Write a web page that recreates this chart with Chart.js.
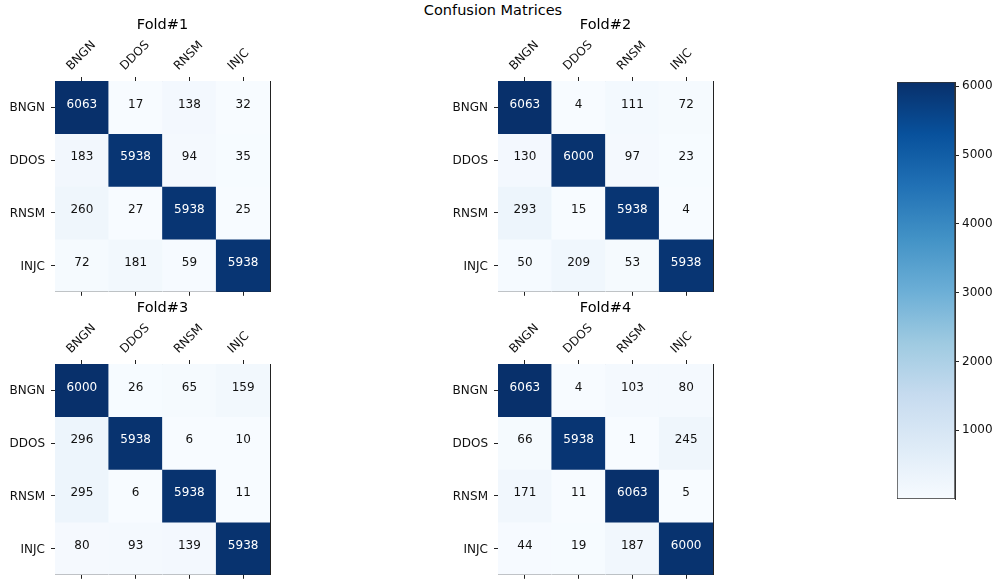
<!DOCTYPE html>
<html>
<head>
<meta charset="utf-8">
<script src="https://cdn.jsdelivr.net/npm/chart.js@4.4.1/dist/chart.umd.min.js"></script>
<style>
  html, body { margin: 0; padding: 0; background: #ffffff; overflow: hidden; }
  #wrap { position: relative; width: 996px; height: 581px; overflow: hidden; }
  #wrap canvas { position: absolute; }
  #suptitle {
    position: absolute; left: 0; top: 2px; width: 986px; text-align: center;
    font: 14.5px "DejaVu Sans", sans-serif; line-height: 17px; color: #000;
  }
</style>
</head>
<body>
<div id="wrap">
  <div id="suptitle">Confusion Matrices</div>
  <canvas id="fold1" width="325" height="305" style="left:0px;top:0px"></canvas>
  <canvas id="fold2" width="325" height="305" style="left:443px;top:0px"></canvas>
  <canvas id="fold3" width="325" height="305" style="left:0px;top:283px"></canvas>
  <canvas id="fold4" width="325" height="305" style="left:443px;top:283px"></canvas>
  <canvas id="cbar" width="99" height="441" style="left:897px;top:70px"></canvas>
</div>
<script>
// Class names (rows = true label, columns = predicted label)
const classes = ['BNGN', 'DDOS', 'RNSM', 'INJC'];

// Confusion matrix per cross-validation fold
const fold1 = [
  [6063, 17, 138, 32],
  [183, 5938, 94, 35],
  [260, 27, 5938, 25],
  [72, 181, 59, 5938]
];
const fold2 = [
  [6063, 4, 111, 72],
  [130, 6000, 97, 23],
  [293, 15, 5938, 4],
  [50, 209, 53, 5938]
];
const fold3 = [
  [6000, 26, 65, 159],
  [296, 5938, 6, 10],
  [295, 6, 5938, 11],
  [80, 93, 139, 5938]
];
const fold4 = [
  [6063, 4, 103, 80],
  [66, 5938, 1, 245],
  [171, 11, 6063, 5],
  [44, 19, 187, 6000]
];
const foldTitles = ['Fold#1', 'Fold#2', 'Fold#3', 'Fold#4'];
const colorbarTicks = [1000, 2000, 3000, 4000, 5000, 6000];

// "Blues" sequential colour map
const bluesStops = ['#f7fbff', '#deebf7', '#c6dbef', '#9ecae1', '#6baed6',
                    '#4292c6', '#2171b5', '#08519c', '#08306b'];

function hexToRgb(h) {
  return [parseInt(h.slice(1, 3), 16), parseInt(h.slice(3, 5), 16), parseInt(h.slice(5, 7), 16)];
}
const bluesRgb = bluesStops.map(hexToRgb);

function blues(t) {
  t = Math.max(0, Math.min(1, t));
  const pos = t * (bluesRgb.length - 1);
  const i = Math.min(Math.floor(pos), bluesRgb.length - 2);
  const f = pos - i;
  const a = bluesRgb[i], b = bluesRgb[i + 1];
  const c = a.map((v, k) => Math.round(v + (b[k] - v) * f));
  return 'rgb(' + c.join(',') + ')';
}

Chart.defaults.font.family = '"DejaVu Sans", sans-serif';
Chart.defaults.font.size = 12;
Chart.defaults.color = '#111';

const frameColor = '#222';
const TITLE_SIZE = 14.5;
const TITLE_PAD = 16.3;
const TITLE_H = TITLE_PAD + TITLE_SIZE * 1.2;  // title padding + line height
const CHART_TOP = 81;                           // top of the matrix inside each canvas
const SIDE_W = 55;                              // equal side margins keep the title centred

// Writes each cell's count at the centre of its cell
const cellText = {
  id: 'cellText',
  afterDatasetsDraw(chart) {
    const { ctx } = chart;
    const thresh = chart.options.plugins.cellText.vmax / 2;
    ctx.save();
    ctx.font = '12px "DejaVu Sans", sans-serif';
    ctx.textAlign = 'center';
    ctx.textBaseline = 'middle';
    chart.data.datasets.forEach((ds, di) => {
      const meta = chart.getDatasetMeta(di);
      meta.data.forEach((bar, i) => {
        const raw = ds.data[i];
        const p = bar.getProps(['x', 'y', 'base'], true);
        ctx.fillStyle = raw.v > thresh ? '#ffffff' : '#111111';
        ctx.fillText(String(raw.v), p.x, (p.y + p.base) / 2 - 2.8);
      });
    });
    ctx.restore();
  }
};

function makeFold(id, title, matrix) {
  const flat = matrix.flat();
  const vmin = Math.min(...flat), vmax = Math.max(...flat);
  const datasets = matrix.map((row, r) => ({
    label: classes[r],
    data: row.map((v, c) => ({ x: classes[c], y: [r, r + 1], v })),
    backgroundColor: row.map(v => blues((v - vmin) / (vmax - vmin))),
    borderWidth: 0,
    grouped: false,
    barPercentage: 1,
    categoryPercentage: 1
  }));

  return new Chart(document.getElementById(id), {
    type: 'bar',
    data: { labels: classes, datasets },
    plugins: [cellText],
    options: {
      responsive: false,
      animation: false,
      devicePixelRatio: 1,
      layout: { padding: 0 },
      plugins: {
        legend: { display: false },
        tooltip: { enabled: false },
        title: {
          display: true, text: title, color: '#000',
          font: { size: TITLE_SIZE, weight: 'normal' },
          padding: { top: TITLE_PAD, bottom: 0 }
        },
        cellText: { vmax }
      },
      scales: {
        x: {
          type: 'category', position: 'top', offset: true,
          grid: { display: true, drawOnChartArea: false, offset: false, tickLength: 4, color: frameColor },
          border: { display: true, color: frameColor, width: 1 },
          ticks: { autoSkip: false, minRotation: 45, maxRotation: 45, padding: 3.5, labelOffset: -3, color: '#111' },
          afterFit: s => { s.height = CHART_TOP - TITLE_H; }
        },
        x2: {
          type: 'category', position: 'bottom', offset: true, labels: classes,
          grid: { display: true, drawOnChartArea: false, offset: false, tickLength: 4, color: frameColor },
          border: { display: true, color: frameColor, width: 1 },
          ticks: { display: false },
          afterFit: s => { s.height = 10; }
        },
        y: {
          type: 'linear', position: 'left', min: 0, max: 4, reverse: true,
          grid: { display: true, drawOnChartArea: false, tickLength: 4, color: frameColor },
          border: { display: true, color: frameColor, width: 1 },
          afterBuildTicks: s => { s.ticks = [0.5, 1.5, 2.5, 3.5].map(v => ({ value: v })); },
          ticks: { padding: 6, labelOffset: 1, color: '#111', callback: v => classes[Math.floor(v)] },
          afterFit: s => { s.width = SIDE_W; }
        },
        y2: {
          type: 'linear', position: 'right', min: 0, max: 4,
          grid: { display: true, drawOnChartArea: false, drawTicks: false },
          border: { display: true, color: frameColor, width: 1 },
          afterBuildTicks: s => { s.ticks = []; },
          ticks: { display: false },
          afterFit: s => { s.width = SIDE_W; }
        }
      }
    }
  });
}

makeFold('fold1', foldTitles[0], fold1);
makeFold('fold2', foldTitles[1], fold2);
makeFold('fold3', foldTitles[2], fold3);
makeFold('fold4', foldTitles[3], fold4);

// Colour bar for the last matrix's value range
const cbFlat = fold4.flat();
const cbMin = Math.min(...cbFlat), cbMax = Math.max(...cbFlat);

new Chart(document.getElementById('cbar'), {
  type: 'bar',
  data: {
    labels: [''],
    datasets: [{
      data: [[cbMin, cbMax]],
      backgroundColor: (ctx) => {
        const chart = ctx.chart;
        if (!chart.chartArea) return bluesStops[4];
        const ys = chart.scales.y;
        const g = chart.ctx.createLinearGradient(0, ys.getPixelForValue(cbMin), 0, ys.getPixelForValue(cbMax));
        bluesStops.forEach((c, i) => g.addColorStop(i / (bluesStops.length - 1), c));
        return g;
      },
      borderColor: '#333',
      borderWidth: 1,
      borderSkipped: false,
      barPercentage: 1,
      categoryPercentage: 1
    }]
  },
  options: {
    responsive: false,
    animation: false,
    devicePixelRatio: 1,
    layout: { padding: { top: 12, bottom: 12, left: 0, right: 0 } },
    plugins: { legend: { display: false }, tooltip: { enabled: false } },
    scales: {
      x: { display: false, offset: true },
      y: {
        type: 'linear', position: 'right', min: cbMin, max: cbMax,
        grid: { display: true, drawOnChartArea: false, tickLength: 4, color: frameColor },
        border: { display: true, color: '#333', width: 1 },
        afterBuildTicks: s => { s.ticks = colorbarTicks.map(v => ({ value: v })); },
        ticks: { padding: 3, color: '#111', callback: v => String(v) },
        afterFit: s => { s.width = 41; }
      }
    }
  }
});
</script>
</body>
</html>
